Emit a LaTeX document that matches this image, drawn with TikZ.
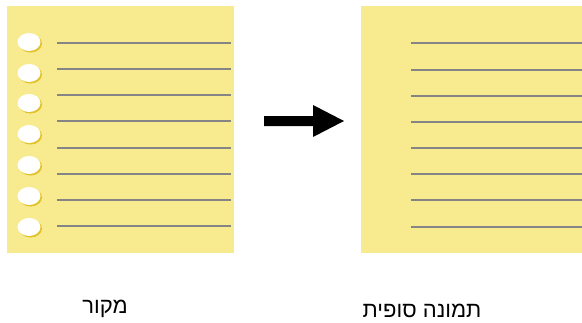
\documentclass[tikz,border=0pt]{standalone}
\usepackage{fontspec}
\setmainfont{Liberation Sans}
\newfontfamily\hebfont[Script=Hebrew]{Liberation Sans}
\TeXXeTstate=1
\definecolor{paper}{HTML}{F7EA8F}
\definecolor{ruling}{HTML}{858585}
\definecolor{holeshadow}{HTML}{E2C22A}
\tikzset{
  page/.style={fill=paper, draw=none},
  rule/.style={draw=ruling, line width=2pt},
  hole/.style={fill=white, draw=none},
  holeshade/.style={fill=holeshadow, draw=none},
  caption/.style={font=\hebfont\fontsize{22}{26}\selectfont, inner sep=0pt, anchor=center}
}
\begin{document}
\begin{tikzpicture}[x=1pt,y=-1pt]
\useasboundingbox (0,0) rectangle (582,322);
% left page
\path[page] (7,6) rectangle (234,253);
\foreach \y in {43,69,95,121,148,174,200,226}{
  \draw[rule] (57,\y) -- (231,\y);
}
\foreach \y in {42,73,103,134,165,196,227}{
  \path[holeshade] (30.5,\y+1.5) ellipse [x radius=11.5, y radius=9];
  \path[hole] (29,\y) ellipse [x radius=11.5, y radius=9];
}
% right page
\path[page] (361,6) rectangle (582,253);
\foreach \y in {43,70,96,122,148,174,200,227}{
  \draw[rule] (411,\y) -- (582,\y);
}
% arrow
\node[inner sep=0pt] (src) at (264,121) {};
\node[inner sep=0pt] (dst) at (344,121) {};
\fill[black] (264,116) -- (313,116) -- (313,105) -- (344,121) -- (313,137) -- (313,126) -- (264,126) -- cycle;
% captions
\node[caption] (lbl1) at (105,309) {\beginR מקור\endR};
\node[caption] (lbl2) at (422,311) {\beginR תמונה סופית\endR};
\end{tikzpicture}
\end{document}
